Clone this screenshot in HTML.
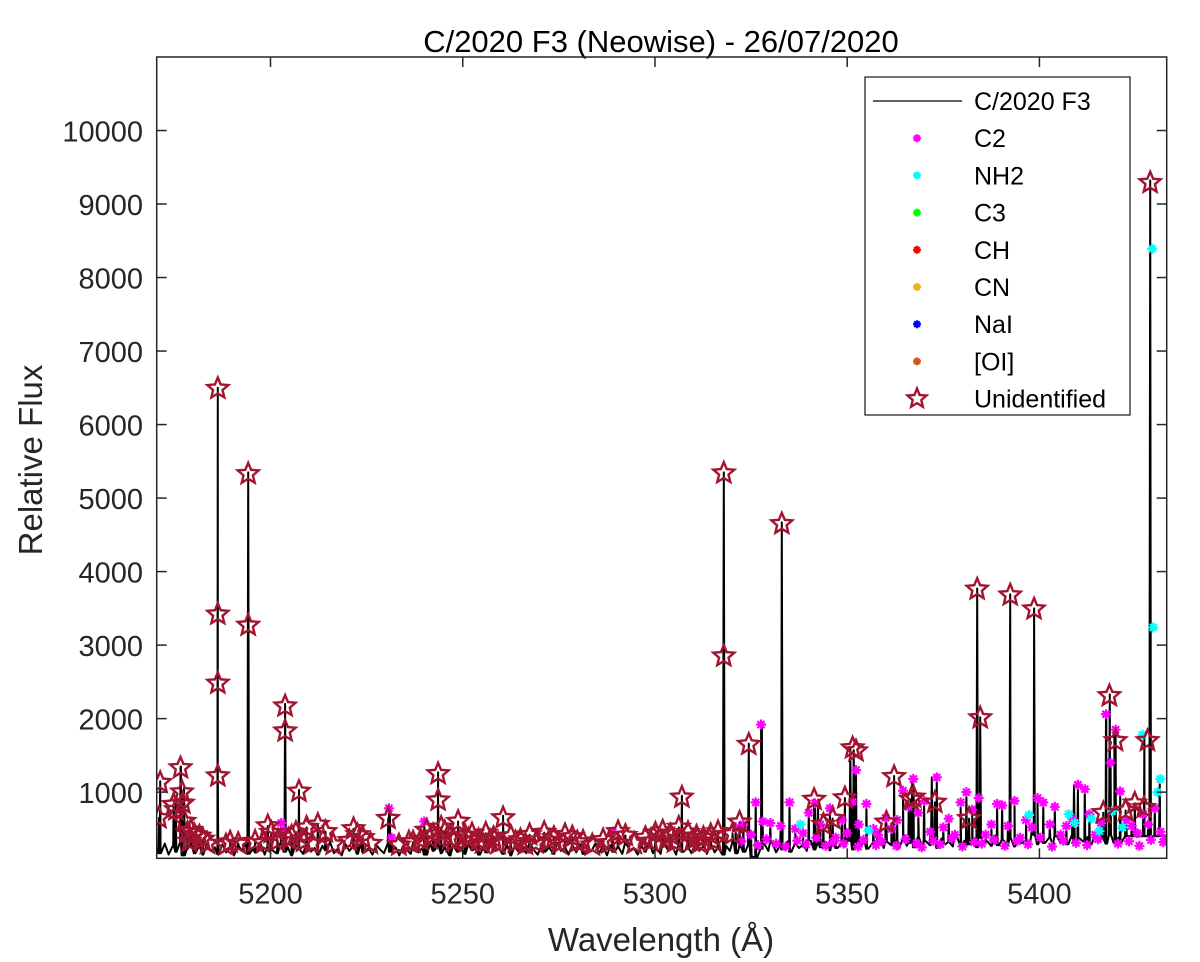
<!DOCTYPE html>
<html><head><meta charset="utf-8"><style>
html,body{margin:0;padding:0;background:#fff;}
svg{display:block;font-family:"Liberation Sans",Arial,sans-serif;}
</style></head><body>
<svg id="chart" width="1200" height="962" viewBox="0 0 1200 962">
<text x="661" y="52" font-size="31" text-anchor="middle" fill="#000">C/2020 F3 (Neowise) - 26/07/2020</text>
<text x="661" y="951" font-size="33" text-anchor="middle" fill="#262626">Wavelength (Å)</text>
<text transform="translate(42,460) rotate(-90)" font-size="33" text-anchor="middle" fill="#262626">Relative Flux</text>
<g id="plot"></g>
<g id="axes"></g>
<g id="legend"></g>
</svg>
<script>
// ---- data ----
const xTicks = [5200,5250,5300,5350,5400];
const yTicks = [1000,2000,3000,4000,5000,6000,7000,8000,9000,10000];
const baseStart = 5170.5, baseStep = 1;
const baseline = [240,170,300,150,260,190,320,140,230,280,170,260,150,300,200,250,160,290,180,240,
140,270,200,310,160,230,180,290,150,260,210,170,300,190,250,140,280,220,160,300,
190,240,150,270,210,320,170,230,140,290,200,260,160,310,180,240,150,280,220,170,
300,190,250,140,270,210,160,290,180,240,150,310,200,260,170,230,140,280,190,250,
160,300,210,240,150,270,180,320,200,230,160,290,140,260,190,240,170,300,210,150,
280,190,250,160,310,200,240,150,270,180,290,160,230,200,300,170,260,140,280,190,
250,160,300,210,240,150,270,190,310,170,230,160,290,200,260,150,280,190,240,170,
300,200,260,160,290,180,240,150,270,200,310,170,250,190,280,120,100,230,290,200,
310,180,270,220,330,190,300,240,280,200,340,220,290,250,320,210,360,240,300,260,
340,220,310,270,350,230,300,260,380,240,320,280,340,230,360,270,310,250,390,260,
330,280,350,240,370,290,320,260,400,270,340,290,360,250,380,300,330,270,410,280,
350,300,370,260,390,310,340,280,420,290,360,310,380,270,400,320,350,290,410,300,
370,320,390,280,410,330,360,300,420,310,380,330,400];
const peakWl = [5171.3,5175.4,5176.7,5177.5,5186.3,5194.2,5203.8,5207.4,5231,5243.6,5260.5,5307,5317.9,5324.4,5327.8,5333,5342.4,5350.8,5351.7,5362.2,5366.9,5372,5383.8,5384.6,5392.4,5398.6,5409,5417.4,5418.3,5419.5,5427.3,5428.8,5431.3];
const peakFlux= [1150,900,1350,1050,6500,5350,2200,1030,780,1270,680,950,5350,1660,1920,4670,900,1600,1570,1220,1150,1200,3770,2020,3690,3500,1100,2080,2330,1750,1800,9320,1200];
const c2Wl = [5202.8,5203.5,5230.8,5231.5,5240,5289,5321,5323,5325,5326.2,5327.6,5328,5330,5332.7,5335,5336.5,5338.5,5340,5341.6,5343,5345.5,5347,5348.6,5350,5351.4,5352.3,5353,5355,5356.8,5358,5360,5361.5,5363,5364.5,5366,5367.2,5368.5,5370,5371.6,5373.3,5375,5376.4,5378,5379.5,5381,5382.5,5384.2,5386,5387.5,5389,5390.3,5391.8,5393.5,5395,5396.5,5398,5399.5,5401,5402.7,5404,5405.5,5407,5408.5,5410,5411.8,5413,5414.5,5416,5417.3,5418.5,5419.8,5421,5422.6,5424,5425.5,5427,5428.3,5430,5431.5,5432.8];
const c2Flux = [580,480,780,380,600,460,520,560,420,860,1920,600,580,540,860,500,440,720,850,560,780,380,620,440,870,1300,560,840,500,420,650,500,620,1020,800,1180,720,880,460,1200,520,640,420,860,1000,760,920,420,560,840,820,540,880,380,620,520,920,860,560,800,420,540,640,1100,1040,700,420,580,2060,1400,1850,1010,620,540,440,700,560,780,460,360];
const c2LowWl = [5322.5,5326.8,5329,5331.5,5334,5337,5339.3,5342,5344.4,5346.3,5349,5352.8,5354.2,5357.5,5359,5362.8,5365.2,5368,5369.4,5372.4,5374.2,5377.2,5380,5383,5385,5388.2,5391,5394.2,5397,5400.2,5403.3,5406.2,5409.5,5412.4,5415.2,5420.4,5423.3,5426,5429,5432.2];
const c2LowFlux = [330,280,360,300,260,340,290,380,270,320,300,260,350,280,330,270,360,300,250,340,290,370,260,320,300,350,270,330,290,380,260,340,310,280,360,300,330,270,350,320];
const nh2Wl = [5337.8,5355.6,5397.3,5407.6,5409.2,5413.5,5415.6,5418.9,5421.6,5426.8,5429.3,5429.6,5430.7,5431.4];
const nh2Flux= [560,480,690,700,580,640,470,740,520,1780,8390,3240,1000,1180];
const unWl = [5171.3,5171,5174.8,5175.4,5176.6,5177,5177.2,5177.6,5178.4,5179.3,5180.2,5181.5,5182.4,5186.3,5186.3,5186.3,5186.3,5189.5,5191.6,5194.2,5194.2,5196,5199.3,5200.2,5201.8,5203.8,5203.8,5205.5,5206.6,5207.4,5209.4,5212.3,5214.3,5221.6,5222.6,5224,5230.6,5237.1,5240.6,5242.3,5243.6,5243.6,5244.4,5245.3,5246.7,5248.8,5250.6,5252.4,5254.1,5256,5258,5260.5,5262.5,5265,5267.4,5271.2,5273.7,5276.6,5278.5,5281.3,5286.5,5290.4,5292.3,5297.5,5300.1,5302,5304,5306.2,5307,5308.6,5310.8,5312.6,5314.5,5316.4,5317.9,5317.9,5320.2,5322,5324.4,5333,5341.4,5343.8,5346.2,5349.4,5351.4,5352.3,5360.2,5362.2,5366.6,5367.3,5372.8,5381.7,5383.8,5384.6,5392.4,5398.6,5416.6,5418.2,5419.8,5422.4,5424.8,5427.2,5428.8,5428.1];
const unFlux = [1130,650,830,760,1330,1000,850,600,450,480,420,400,360,6490,3420,2480,1220,320,300,5330,3270,330,540,450,340,2170,1830,400,450,1010,520,560,460,500,420,380,640,320,480,420,1250,890,520,460,380,600,410,430,350,440,380,650,400,350,420,450,380,420,390,330,350,460,410,380,440,470,420,520,930,450,400,380,420,460,5340,2850,430,590,1650,4650,900,560,640,920,1600,1560,590,1210,900,930,860,640,3760,2010,3680,3490,720,2310,1700,750,850,790,9290,1700];
const unLowWl = [5178.9,5183.6,5188.4,5198.2,5204.7,5208.6,5210.8,5216.3,5220.5,5226,5233.4,5236,5239.1,5241.5,5247.6,5251.5,5255.1,5257.1,5259.2,5263.7,5266.3,5269,5272.5,5275,5279.8,5283.7,5288,5294.6,5298.9,5303,5305.1,5309.7,5311.6,5315.4];
const unLowFlux = [330,300,280,310,360,330,300,290,340,300,280,320,350,370,330,360,310,340,300,320,290,310,340,300,320,280,310,300,330,350,320,340,310,330];

// ---- scales ----
const L=156.7,R=1166.7,T=57,B=858.3,xmin=5170.4,xmax=5433.1,ymin=100,ymax=11000;
const sx=v=>L+(v-xmin)/(xmax-xmin)*(R-L);
const sy=v=>B-(v-ymin)/(ymax-ymin)*(B-T);
const NS='http://www.w3.org/2000/svg';
function mk(tag,attrs,parent){const e=document.createElementNS(NS,tag);for(const k in attrs)e.setAttribute(k,attrs[k]);parent.appendChild(e);return e;}
const plot=document.getElementById('plot'),axes=document.getElementById('axes'),leg=document.getElementById('legend');
const cp=mk('clipPath',{id:'clip'},plot);
mk('rect',{x:L,y:T,width:R-L,height:B-T},cp);

const baseAt=w=>baseline[Math.max(0,Math.min(baseline.length-1,Math.round((w-baseStart)/baseStep)))];
let pts=[];
baseline.forEach((v,i)=>pts.push([baseStart+i*baseStep,v]));
peakWl.forEach((w,i)=>{pts.push([w-0.2,baseAt(w)]);pts.push([w,peakFlux[i]]);pts.push([w+0.2,baseAt(w)]);});
c2Wl.forEach((w,i)=>{pts.push([w-0.12,baseAt(w)]);pts.push([w,c2Flux[i]]);pts.push([w+0.12,baseAt(w)]);});
unWl.forEach((w,i)=>{if(unFlux[i]<1400){pts.push([w-0.12,baseAt(w)]);pts.push([w,unFlux[i]]);pts.push([w+0.12,baseAt(w)]);}});
pts.sort((a,b)=>a[0]-b[0]);
const g=mk('g',{'clip-path':'url(#clip)'},plot);
const line=mk('path',{d:'M'+pts.map(p=>sx(p[0]).toFixed(1)+','+sy(p[1]).toFixed(1)).join('L'),fill:'none',stroke:'#000','stroke-width':2,'stroke-linejoin':'round'},g);



function star(cx,cy,r,parent){
  let d='';for(let k=0;k<10;k++){const a=-Math.PI/2+k*Math.PI/5,rr=k%2?r*0.45:r;d+=(k?'L':'M')+(cx+rr*Math.cos(a)).toFixed(1)+','+(cy+rr*Math.sin(a)).toFixed(1);}
  return mk('path',{d:d+'Z',fill:'none',stroke:'#a2142f','stroke-width':2.4,'stroke-linejoin':'miter'},parent);
}
function aster(cx,cy,r,col,parent){
  let d='';for(let k=0;k<4;k++){const a=k*Math.PI/4;d+='M'+(cx-r*Math.cos(a)).toFixed(1)+','+(cy-r*Math.sin(a)).toFixed(1)+'L'+(cx+r*Math.cos(a)).toFixed(1)+','+(cy+r*Math.sin(a)).toFixed(1);}
  return mk('path',{d:d,stroke:col,'stroke-width':2.2,fill:'none'},parent);
}
c2Wl.forEach((w,i)=>{const m=aster(sx(w),sy(c2Flux[i]),5,'#ff00ff',g);

});
c2LowWl.forEach((w,i)=>{const m=aster(sx(w),sy(c2LowFlux[i]),5,'#ff00ff',g);

});
nh2Wl.forEach((w,i)=>{const m=aster(sx(w),sy(nh2Flux[i]),5,'#00ffff',g);

});
unLowWl.forEach((w,i)=>{const m=star(sx(w),sy(unLowFlux[i]),11,g);

});
unWl.forEach((w,i)=>{const m=star(sx(w),sy(unFlux[i]),11,g);

});

mk('rect',{x:L,y:T,width:R-L,height:B-T,fill:'none',stroke:'#262626','stroke-width':1.5},axes);
xTicks.forEach(v=>{const x=sx(v);
 mk('line',{x1:x,y1:B,x2:x,y2:B-10,stroke:'#262626','stroke-width':1.5},axes);
 mk('line',{x1:x,y1:T,x2:x,y2:T+10,stroke:'#262626','stroke-width':1.5},axes);
 const t=mk('text',{x:x,y:B+45,'font-size':29,'text-anchor':'middle',fill:'#262626'},axes);t.textContent=v;
 
 });
yTicks.forEach(v=>{const y=sy(v);
 mk('line',{x1:L,y1:y,x2:L+10,y2:y,stroke:'#262626','stroke-width':1.5},axes);
 mk('line',{x1:R,y1:y,x2:R-10,y2:y,stroke:'#262626','stroke-width':1.5},axes);
 const t=mk('text',{x:143,y:y+11,'font-size':29,'text-anchor':'end',fill:'#262626'},axes);t.textContent=v;
 
 });

const legNames=['C/2020 F3','C2','NH2','C3','CH','CN','NaI','[OI]','Unidentified'];
const legCols=['#000','#ff00ff','#00ffff','#00ff00','#ff0000','#edb120','#0000ff','#d95319','#a2142f'];
mk('rect',{x:865,y:77,width:265,height:338,fill:'#fff',stroke:'#262626','stroke-width':1.3},leg);
legNames.forEach((n,i)=>{const y=101+i*37.2;
 const eg=mk('g',{},leg);
 
 
 if(i===0)mk('line',{x1:873,y1:y,x2:962,y2:y,stroke:'#000','stroke-width':1.3},eg);
 else if(i===8)star(917,y,10,eg);
 else aster(917,y,4,legCols[i],eg);
 const t=mk('text',{x:974,y:y+9,'font-size':25,fill:'#000'},eg);t.textContent=n;});
</script>
</body></html>
